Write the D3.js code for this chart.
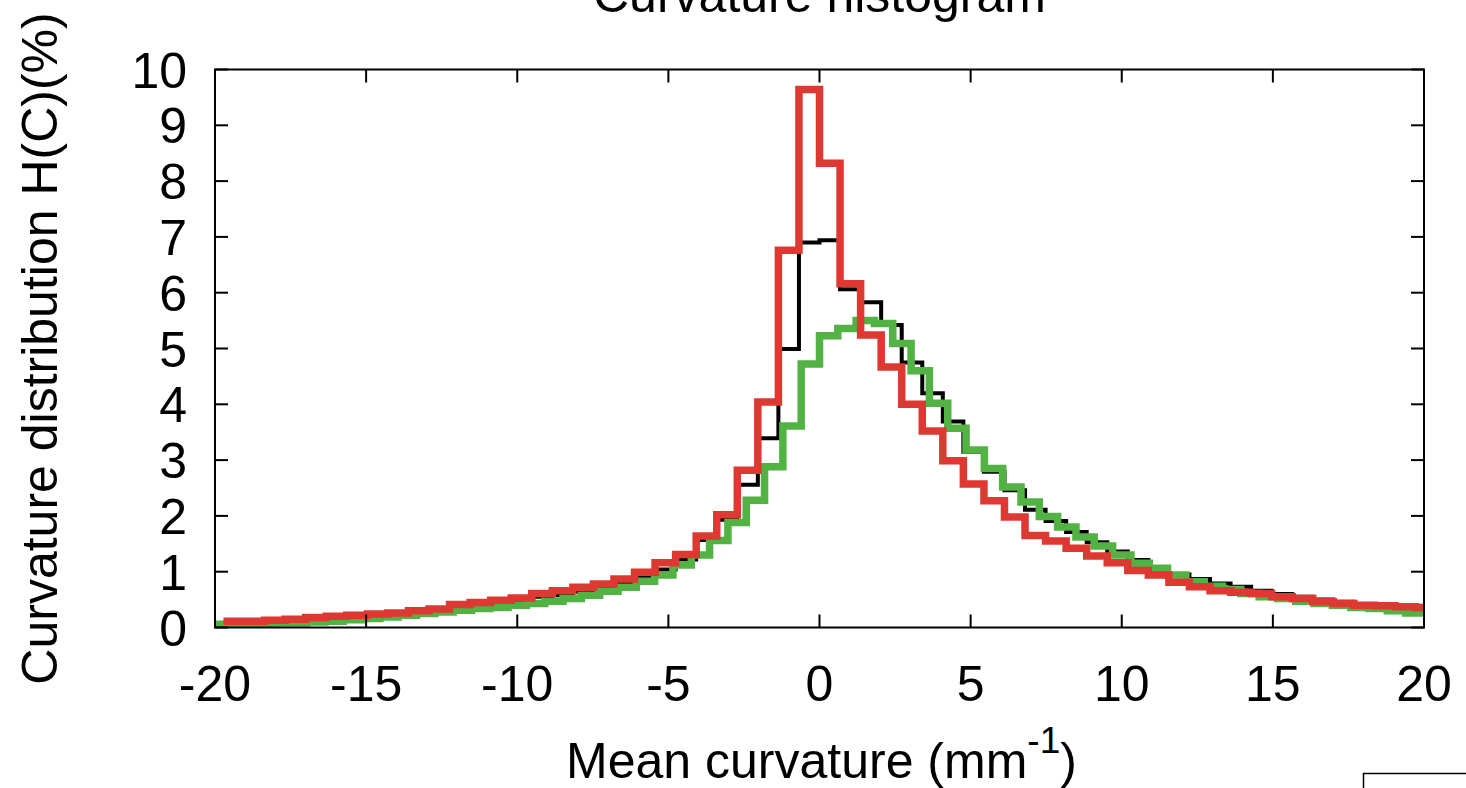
<!DOCTYPE html>
<html><head><meta charset="utf-8">
<script src="https://cdn.jsdelivr.net/npm/d3@7"></script>
<style>html,body{margin:0;padding:0;background:#fff;overflow:hidden}</style>
</head><body><svg id="c" width="1466" height="788"></svg>
<script>
// ---- data ----
const titleText = "Curvature histogram";
const xLabelMain = "Mean curvature (mm";
const xLabelSup = "-1";
const xLabelEnd = ")";
const yLabelText = "Curvature distribution H(C)(%)";
const xTicks = [-20, -15, -10, -5, 0, 5, 10, 15, 20];
const yTicks = [0, 1, 2, 3, 4, 5, 6, 7, 8, 9, 10];

// black & red histograms share bins of width 0.68 starting at bin index -29
const binWidthBR = 0.68;
const firstBinBR = -29;
// green histogram bins of width 20/33 starting at bin index -33
const binWidthG = 20 / 33;
const firstBinG = -33;

const blackValues = [0.09,0.10,0.11,0.12,0.14,0.16,0.18,0.20,0.22,0.25,0.28,0.33,0.37,0.42,0.48,0.55,0.58,0.64,0.70,0.78,
  0.89,1.04,1.22,1.57,1.93,2.56,3.39,4.99,6.90,6.94,6.06,5.83,5.42,4.75,4.20,3.69,3.15,2.79,2.46,2.11,
  1.91,1.71,1.53,1.36,1.21,1.08,0.95,0.87,0.79,0.73,0.66,0.60,0.55,0.50,0.46,0.42,0.39,0.35,0.32];
const redValues = [0.11,0.11,0.13,0.15,0.18,0.20,0.22,0.24,0.26,0.30,0.33,0.41,0.45,0.49,0.53,0.61,0.66,0.72,0.78,0.87,
  0.99,1.16,1.31,1.64,2.02,2.82,4.04,6.76,9.64,8.32,6.16,5.24,4.67,4.00,3.52,2.99,2.57,2.27,1.98,1.65,
  1.55,1.42,1.28,1.16,1.02,0.94,0.81,0.73,0.66,0.63,0.61,0.55,0.52,0.46,0.43,0.40,0.39,0.37,0.36];
const greenValues = [0.06,0.07,0.07,0.08,0.08,0.10,0.11,0.14,0.16,0.19,0.22,0.25,0.28,0.31,0.34,0.36,0.40,0.43,0.47,0.52,
  0.58,0.65,0.72,0.83,0.94,1.12,1.30,1.56,1.88,2.28,2.88,3.61,4.72,5.23,5.36,5.50,5.45,5.09,4.60,4.02,
  3.57,3.18,2.85,2.52,2.25,1.99,1.80,1.62,1.46,1.30,1.15,1.06,0.94,0.82,0.74,0.68,0.61,0.55,0.52,0.47,
  0.43,0.40,0.36,0.34,0.30,0.26];

// ---- layout ----
const W = 1466, H = 788;
const L = 215, R = 1424, T = 69.5, B = 627.5;
const FONT = "'Liberation Sans', Arial, Helvetica, sans-serif";

const svg = d3.select("#c");
svg.append("rect").attr("width", W).attr("height", H).attr("fill", "#fff");

const x = d3.scaleLinear().domain([-20, 20]).range([L, R]);
const y = d3.scaleLinear().domain([0, 10]).range([B, T]);

svg.append("defs").append("clipPath").attr("id", "plotclip")
  .append("rect").attr("x", L).attr("y", T - 10).attr("width", R - L).attr("height", B - T + 10);

function stepPoints(values, first, w) {
  const pts = values.map((v, i) => [(first + i) * w, v]);
  pts.push([(first + values.length) * w, values[values.length - 1]]);
  return pts;
}
const line = d3.line().x(d => x(d[0])).y(d => y(d[1])).curve(d3.curveStepAfter);

const g = svg.append("g").attr("clip-path", "url(#plotclip)");
const series = [
  { vals: blackValues, first: firstBinBR, w: binWidthBR, color: "#000000", width: 4 },
  { vals: greenValues, first: firstBinG, w: binWidthG, color: "#52b243", width: 7.5 },
  { vals: redValues, first: firstBinBR, w: binWidthBR, color: "#de3832", width: 7.5 }
];
series.forEach(s => {
  g.append("path")
    .attr("d", line(stepPoints(s.vals, s.first, s.w)))
    .attr("fill", "none")
    .attr("stroke", s.color)
    .attr("stroke-width", s.width)
    .attr("stroke-linejoin", "miter")
    .attr("stroke-linecap", "butt");
});

// ticks (inward, mirrored)
const tickLen = 13;
const axes = svg.append("g").attr("stroke", "#000").attr("stroke-width", 2);
xTicks.forEach(t => {
  axes.append("line").attr("x1", x(t)).attr("x2", x(t)).attr("y1", B).attr("y2", B - tickLen);
  axes.append("line").attr("x1", x(t)).attr("x2", x(t)).attr("y1", T).attr("y2", T + tickLen);
});
yTicks.forEach(t => {
  axes.append("line").attr("x1", L).attr("x2", L + tickLen).attr("y1", y(t)).attr("y2", y(t));
  axes.append("line").attr("x1", R).attr("x2", R - tickLen).attr("y1", y(t)).attr("y2", y(t));
});
svg.append("rect").attr("x", L).attr("y", T).attr("width", R - L).attr("height", B - T)
  .attr("fill", "none").attr("stroke", "#000").attr("stroke-width", 2);

// tick labels
const fs = 50;
svg.append("g").selectAll("text").data(xTicks).join("text")
  .attr("x", d => x(d)).attr("y", 701)
  .attr("text-anchor", "middle").attr("font-family", FONT).attr("font-size", fs).attr("fill", "#000")
  .text(d => d);
svg.append("g").selectAll("text").data(yTicks).join("text")
  .attr("x", 187).attr("y", d => y(d) + 18)
  .attr("text-anchor", "end").attr("font-family", FONT).attr("font-size", fs).attr("fill", "#000")
  .text(d => d);

// title (partly cut off at top)
svg.append("text").attr("x", (L + R) / 2).attr("y", 12)
  .attr("text-anchor", "middle").attr("font-family", FONT).attr("font-size", fs).attr("fill", "#000")
  .text(titleText);

// x label with superscript
const xl = svg.append("text").attr("x", (L + R) / 2 + 2).attr("y", 778)
  .attr("text-anchor", "middle").attr("font-family", FONT).attr("font-size", fs).attr("fill", "#000");
xl.append("tspan").text(xLabelMain);
xl.append("tspan").attr("font-size", 37).attr("dy", -25).text(xLabelSup);
xl.append("tspan").attr("dy", 25).text(xLabelEnd);

// y label
svg.append("text")
  .attr("transform", `translate(57,${(T + B) / 2}) rotate(-90)`)
  .attr("text-anchor", "middle").attr("font-family", FONT).attr("font-size", fs).attr("fill", "#000")
  .text(yLabelText);

// partially visible key box at bottom right
svg.append("rect").attr("x", 1363.5).attr("y", 773.5).attr("width", 200).attr("height", 100)
  .attr("fill", "none").attr("stroke", "#000").attr("stroke-width", 1.5);
</script>
</body></html>
